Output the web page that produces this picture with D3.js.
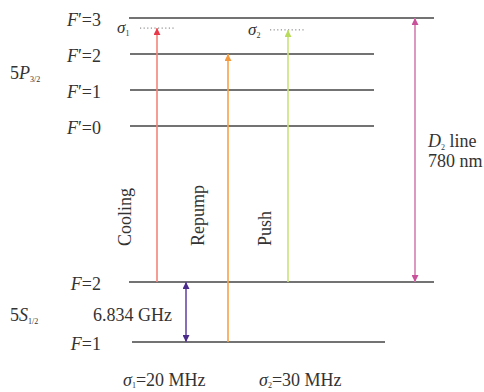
<!DOCTYPE html>
<html>
<head>
<meta charset="utf-8">
<script src="https://cdn.jsdelivr.net/npm/d3@7"></script>
<style>
  body { margin: 0; background: #fff; }
</style>
</head>
<body>
<div id="vis"></div>
<script>
// Hyperfine levels (relative energy, diagram units)
var levelNames = ["F'=3", "F'=2", "F'=1", "F'=0", "F=2", "F=1"];
var levelEnergy = [9, 8, 7, 6, 1.667, 0];

// Transitions: from level -> to (energy target)
var beamNames = ["Cooling", "Repump", "Push"];
var beamFrom = [1.667, 0, 1.667];
var beamTo = [8.72, 8, 8.67];
var detuningLabels = ["σ1=20 MHz", "σ2=30 MHz"];

var width = 484, height = 392;
var fs = 18;

var svg = d3.select("#vis").append("svg")
    .attr("width", width)
    .attr("height", height)
    .attr("font-family", "'Liberation Serif', 'Times New Roman', Times, 'DejaVu Serif', serif")
    .attr("fill", "#333");

// y scale: energy -> pixels
var yScale = d3.scaleLinear()
    .domain([0, 9])
    .range([342, 18]);

// Level line extents
var levelX1 = [129, 130, 130, 130, 129, 132];
var levelX2 = [434, 374, 374, 374, 434, 385];

var defs = svg.append("defs");
function marker(id, color, orient) {
    defs.append("marker")
        .attr("id", id)
        .attr("viewBox", "0 0 10 10")
        .attr("refX", 10).attr("refY", 5)
        .attr("markerWidth", 7).attr("markerHeight", 7)
        .attr("markerUnits", "userSpaceOnUse")
        .attr("orient", orient)
        .append("path")
        .attr("d", "M0,0 L10,5 L0,10 Z")
        .attr("fill", color);
}
marker("mRed", "#e8394a", "auto");
marker("mOrange", "#f59a3c", "auto");
marker("mGreen", "#b8db5c", "auto");
marker("mPink", "#c9509a", "auto-start-reverse");
marker("mPurple", "#4a2a8a", "auto-start-reverse");

// Energy levels
svg.selectAll(".level")
    .data(levelNames)
    .enter().append("line")
    .attr("class", "level")
    .attr("x1", function (d, i) { return levelX1[i]; })
    .attr("x2", function (d, i) { return levelX2[i]; })
    .attr("y1", function (d, i) { return yScale(levelEnergy[i]); })
    .attr("y2", function (d, i) { return yScale(levelEnergy[i]); })
    .attr("stroke", "#444")
    .attr("stroke-width", 1.6);

// Level labels
var lab = svg.selectAll(".lvlLabel")
    .data(levelNames)
    .enter().append("text")
    .attr("class", "lvlLabel")
    .attr("x", 101)
    .attr("y", function (d, i) { return yScale(levelEnergy[i]) + 8; })
    .attr("text-anchor", "end")
    .attr("font-size", fs);
lab.append("tspan").attr("font-style", "italic").text("F");
lab.append("tspan").text(function (d) { return d.slice(1).replace("'", "′"); });

// Term labels
function term(x, y, big, sub) {
    var t = svg.append("text").attr("x", x).attr("y", y).attr("font-size", fs);
    t.append("tspan").text("5");
    t.append("tspan").attr("font-style", "italic").text(big);
    t.append("tspan").attr("dy", 3).attr("font-size", 8).text(sub);
}
term(10, 79, "P", "3/2");
term(10, 321, "S", "1/2");

// Virtual (detuned) levels
svg.append("line")
    .attr("x1", 140).attr("x2", 174)
    .attr("y1", yScale(beamTo[0])).attr("y2", yScale(beamTo[0]))
    .attr("stroke", "#777").attr("stroke-dasharray", "1.2,2.4");
svg.append("line")
    .attr("x1", 270).attr("x2", 306)
    .attr("y1", yScale(beamTo[2])).attr("y2", yScale(beamTo[2]))
    .attr("stroke", "#777").attr("stroke-dasharray", "1.2,2.4");

function sigma(x, y, n, size) {
    var t = svg.append("text").attr("x", x).attr("y", y).attr("font-size", size);
    t.append("tspan").attr("font-style", "italic").text("σ");
    t.append("tspan").attr("dy", 3).attr("font-size", 8).text(n);
    return t;
}
sigma(117, yScale(beamTo[0]) + 5, "1", 17);
sigma(248, yScale(beamTo[2]) + 5, "2", 17);

// Laser beams
var beamX = [157, 228, 288];
var beamColor = ["#f3847a", "#f7a24a", "#c9e37e"];
var beamMarker = ["mRed", "mOrange", "mGreen"];
svg.selectAll(".beam")
    .data(beamNames)
    .enter().append("line")
    .attr("class", "beam")
    .attr("x1", function (d, i) { return beamX[i]; })
    .attr("x2", function (d, i) { return beamX[i]; })
    .attr("y1", function (d, i) { return yScale(beamFrom[i]); })
    .attr("y2", function (d, i) { return yScale(beamTo[i]); })
    .attr("stroke", function (d, i) { return beamColor[i]; })
    .attr("stroke-width", 1.6)
    .attr("marker-end", function (d, i) { return "url(#" + beamMarker[i] + ")"; });

var beamLabelX = [131, 204, 271];
svg.selectAll(".beamLabel")
    .data(beamNames)
    .enter().append("text")
    .attr("class", "beamLabel")
    .attr("transform", function (d, i) { return "translate(" + beamLabelX[i] + ",246) rotate(-90)"; })
    .attr("font-size", fs)
    .text(function (d) { return d; });

// D2 line
svg.append("line")
    .attr("x1", 415).attr("x2", 415)
    .attr("y1", yScale(levelEnergy[4])).attr("y2", yScale(levelEnergy[0]))
    .attr("stroke", "#d47fb1").attr("stroke-width", 1.6)
    .attr("marker-start", "url(#mPink)")
    .attr("marker-end", "url(#mPink)");
var d2 = svg.append("text").attr("x", 428).attr("y", 147).attr("font-size", fs);
d2.append("tspan").attr("font-style", "italic").text("D");
d2.append("tspan").attr("dy", 3).attr("font-size", 8).text("2");
d2.append("tspan").attr("dy", -3).text(" line");
svg.append("text").attr("x", 428).attr("y", 167).attr("font-size", fs).text("780 nm");

// Ground hyperfine splitting
svg.append("line")
    .attr("x1", 186).attr("x2", 186)
    .attr("y1", yScale(levelEnergy[5])).attr("y2", yScale(levelEnergy[4]))
    .attr("stroke", "#6a4aa8").attr("stroke-width", 1.6)
    .attr("marker-start", "url(#mPurple)")
    .attr("marker-end", "url(#mPurple)");
svg.append("text").attr("x", 93).attr("y", 321).attr("font-size", fs).text("6.834 GHz");

// Detuning captions
var capX = [123, 259];
detuningLabels.forEach(function (d, i) {
    var t = svg.append("text").attr("x", capX[i]).attr("y", 386).attr("font-size", fs);
    t.append("tspan").attr("font-style", "italic").text("σ");
    t.append("tspan").attr("dy", 2).attr("font-size", 8).text(d.charAt(1));
    t.append("tspan").attr("dy", -2).text(d.slice(2));
});
</script>
</body>
</html>
